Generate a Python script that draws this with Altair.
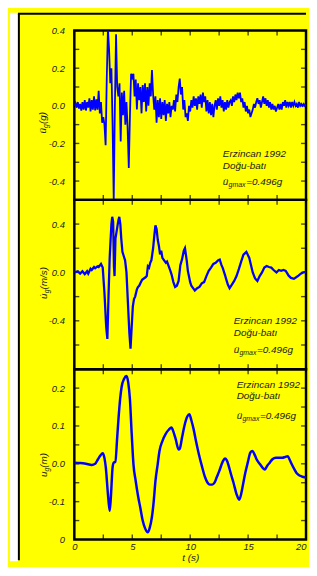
import altair as alt
import pandas as pd

# ---------------- data ----------------
ACC_DT = 0.1
ACC_G = [
    0.00, 0.015, -0.01, 0.02, -0.015, 0.01, -0.025, 0.02, -0.02, 0.03,
    -0.025, 0.02, -0.01, 0.04, -0.03, 0.03, -0.02, 0.05, -0.025, 0.035,
    -0.02, 0.08, -0.04, 0.02, -0.09, -0.06, -0.1, -0.21, 0.15, 0.41,
    0.30, 0.12, 0.20, -0.1, -0.5, 0.0, 0.38, 0.10, 0.05, 0.12,
    -0.19, 0.07, -0.05, 0.08, -0.1, 0.02, -0.12, -0.33, -0.05, 0.17,
    0.15, 0.17, 0.05, 0.14, -0.02, 0.12, 0.03, 0.1, -0.04, 0.11,
    0.02, 0.12, -0.03, 0.1, 0.0, 0.12, 0.05, 0.19, 0.06, -0.02,
    0.05, -0.09, 0.03, -0.06, 0.04, -0.07, 0.02, -0.05, 0.03, -0.08,
    0.01, -0.04, 0.02, -0.06, 0.0, -0.02, 0.03, -0.03, 0.06, 0.02,
    0.1, 0.145, 0.06, 0.1, -0.02, 0.03, -0.06, -0.04, -0.08, 0.0,
    -0.03, 0.03, -0.01, 0.05, 0.0, 0.04, -0.02, 0.05, 0.01, 0.06,
    -0.01, 0.07, 0.02, 0.05, -0.03, 0.03, -0.04, 0.02, -0.05, 0.01,
    -0.06, 0.0, 0.03, -0.02, 0.04, 0.0, 0.05, -0.01, 0.03, -0.03,
    0.02, -0.02, 0.03, -0.01, 0.02, 0.03, 0.0, 0.05, 0.02, 0.06,
    0.03, 0.07, 0.04, 0.07, 0.02, 0.04, -0.01, 0.02, -0.03, 0.0,
    -0.04, -0.02, -0.06, -0.04, -0.02, 0.01, -0.01, 0.02, 0.04, 0.01,
    0.03, -0.01, 0.02, 0.05, 0.01, 0.04, 0.0, 0.03, -0.01, 0.02,
    -0.02, 0.01, -0.02, 0.0, -0.03, -0.01, 0.01, -0.02, 0.01, -0.02,
    0.02, 0.0, 0.03, -0.01, 0.02, 0.0, 0.02, -0.01, 0.02, 0.0,
    0.02, 0.0, 0.01, -0.01, 0.02, 0.0, 0.01, 0.0, 0.01, 0.0,
    0.01,
]
ACC_T = [round(i * ACC_DT, 1) for i in range(len(ACC_G))]

VEL_T = [0, 0.3, 0.5, 0.7, 0.9, 1.1, 1.2, 1.4, 1.5, 1.7, 1.8, 2.0, 2.1, 2.3, 2.45,
         2.6, 2.75, 2.85, 2.95, 3.05, 3.2, 3.27, 3.35, 3.42, 3.47, 3.55, 3.65, 3.8,
         3.88, 3.97, 4.05, 4.15, 4.25, 4.38, 4.5, 4.6, 4.75, 4.85, 4.95, 5.05, 5.15,
         5.25, 5.4, 5.5, 5.6, 5.7, 5.85, 6.0, 6.15, 6.25, 6.35, 6.45, 6.55, 6.65,
         6.8, 6.9, 7.0, 7.1, 7.2, 7.3, 7.4, 7.5, 7.6, 7.75, 7.9, 8.0, 8.15, 8.3,
         8.4, 8.55, 8.7, 8.85, 9.0, 9.15, 9.3, 9.45, 9.55, 9.7, 9.8, 10.0, 10.1,
         10.25, 10.4, 10.6, 10.8, 11.0, 11.2, 11.4, 11.6, 11.8, 12.0, 12.2, 12.4,
         12.55, 12.7, 12.8, 13.0, 13.1, 13.25, 13.4, 13.6, 13.8, 14.0, 14.2, 14.4,
         14.6, 14.85, 15.1, 15.25, 15.4, 15.6, 15.8, 16.0, 16.2, 16.4, 16.6, 16.8,
         17.0, 17.2, 17.45, 17.65, 17.85, 18.05, 18.25, 18.5, 18.7, 18.95, 19.15,
         19.35, 19.55, 19.75, 20.0]
VEL_V = [0.0, 0.01, -0.01, 0.01, -0.015, 0.01, -0.01, 0.03, 0.02, 0.045, 0.035, 0.05, 0.045, 0.07, 0.04,
         -0.17, -0.45, -0.55, -0.2, 0.12, 0.40, 0.46, 0.42, 0.05, -0.03, 0.28, 0.34, 0.43,
         0.46, 0.40, 0.28, 0.17, 0.14, 0.10, 0.0, -0.2, -0.5, -0.63, -0.45, -0.28, -0.22,
         -0.2, -0.14, -0.12, -0.11, -0.09, -0.06, -0.05, -0.04, -0.03, 0.05, 0.04, 0.08,
         0.1, 0.2, 0.3, 0.39, 0.36, 0.27, 0.22, 0.15, 0.18, 0.12, 0.1, 0.08, 0.09, 0.05,
         0.01, -0.02, -0.08, -0.12, -0.11, -0.07, 0.06, 0.11, 0.18, 0.2, 0.1, 0.013,
         -0.08, -0.11, -0.13, -0.15, -0.13, -0.12, -0.09, -0.08, -0.03, 0.013, 0.04, 0.07,
         0.08, 0.1, 0.107, 0.06, 0.04, -0.02, -0.053, -0.1, -0.13, -0.1, -0.07, -0.03,
         0.027, 0.09, 0.147, 0.17, 0.12, 0.06, 0.0, -0.05, -0.07, -0.03, 0.0, 0.04,
         0.053, 0.045, 0.04, 0.02, 0.0, 0.02, 0.013, 0.02, 0.013, -0.027, -0.045, -0.053,
         -0.04, -0.027, -0.01, 0.0, 0.005]

DISP_T = [0, 0.5, 1.0, 1.5, 1.8, 2.04, 2.25, 2.45, 2.6, 2.72, 2.9, 3.05, 3.15, 3.3, 3.4,
          3.54, 3.7, 3.8, 3.95, 4.08, 4.3, 4.5, 4.65, 4.8, 4.95, 5.1, 5.3, 5.5, 5.7,
          5.9, 6.1, 6.34, 6.5, 6.7, 6.85, 7.0, 7.2, 7.35, 7.6, 7.9, 8.15, 8.38, 8.55,
          8.75, 9.0, 9.1, 9.3, 9.5, 9.75, 9.93, 10.1, 10.3, 10.5, 10.75, 11.0, 11.3,
          11.5, 11.7, 11.9, 12.1, 12.3, 12.5, 12.8, 13.0, 13.15, 13.33, 13.5, 13.74,
          14.0, 14.23, 14.4, 14.56, 14.75, 14.97, 15.2, 15.37, 15.55, 15.73, 16.05,
          16.3, 16.46, 16.65, 16.87, 17.1, 17.4, 17.7, 17.96, 18.2, 18.42, 18.6, 18.78,
          19.0, 19.18, 19.4, 19.6, 20.0]
DISP_D = [0.003, 0.002, 0.0, -0.003, 0.0, 0.012, 0.022, 0.028, 0.015, -0.011, -0.08, -0.124,
          -0.09, -0.01, 0.003, 0.005, 0.07, 0.114, 0.17, 0.203, 0.225, 0.232, 0.215, 0.17,
          0.08, 0.0, -0.046, -0.085, -0.117, -0.15, -0.17, -0.181, -0.17, -0.14, -0.1,
          -0.046, 0.0, 0.034, 0.06, 0.08, 0.09, 0.096, 0.085, 0.065, 0.038, 0.04, 0.07,
          0.1, 0.125, 0.131, 0.115, 0.091, 0.06, 0.025, -0.005, -0.037, -0.05, -0.055,
          -0.055, -0.05, -0.035, -0.02, 0.005, 0.014, 0.01, -0.006, -0.025, -0.05, -0.08,
          -0.095, -0.08, -0.055, -0.025, 0.003, 0.03, 0.034, 0.025, 0.012, -0.002, -0.012,
          -0.015, -0.005, 0.003, 0.012, 0.016, 0.016, 0.016, 0.018, 0.02, 0.01, -0.002,
          -0.015, -0.024, -0.03, -0.033, -0.036]

X_TICKS = [0, 2.5, 5, 7.5, 10, 12.5, 15, 17.5, 20]
X_LABELS = [0, 5, 10, 15, 20]

ACC_TICKS = [0.4, 0.3, 0.2, 0.1, 0, -0.1, -0.2, -0.3, -0.4]
ACC_LABEL_VALUES = [0.4, 0.2, 0, -0.2, -0.4]

VEL_TICKS = [0.4, 0.2, 0, -0.2, -0.4, -0.6]
VEL_LABEL_VALUES = [0.4, 0, -0.4]

DISP_TICKS = [0.2, 0.15, 0.1, 0.05, 0, -0.05, -0.1, -0.15]
DISP_LABEL_VALUES = [0.2, 0.1, 0, -0.1, -0.2]

NOTE_LINE1 = "Erzincan 1992"
NOTE_LINE2 = "Doğu-batı"
NOTE_SUB = "gmax"
NOTE_VALUE = "=0.496g"

# ---------------- style ----------------
FONT = "Liberation Sans"
TXT = "#1a1a1a"
BLUE = "#0000ff"
YELLOW = "#ffff00"
W = 234
H1, H2, H3 = 171, 171, 172
TOP = -18
BOTTOM = 536
XSCALE = alt.Scale(domain=[0, 20], nice=False, zero=False)
ONE = pd.DataFrame({"k": [0]})


def txt(s, x, y, size=10, angle=0, style="italic"):
    kw = dict(text=s, align="left", baseline="middle", font=FONT, fontSize=size,
              fontStyle=style, color=TXT)
    if angle:
        kw["angle"] = angle
    return alt.Chart(ONE).mark_text(**kw).encode(x=alt.value(x), y=alt.value(y))


def yaxis(vals, expr=None):
    kw = dict(values=vals, title=None, domain=False, ticks=False, tickSize=0, grid=False,
              labelPadding=10, labelFont=FONT, labelFontSize=9.5,
              labelFontStyle="italic", labelColor=TXT)
    if expr:
        kw["labelExpr"] = expr
    return alt.Axis(**kw)


def minus(expr):
    # plain hyphen minus as in the original
    return f"replace({expr}, '\u2212', '-')"


def tick_layers(yticks, yscale, h, yax, xax):
    tk = dict(color="black", thickness=1.4, size=5)
    ydf = pd.DataFrame({"v": yticks})
    xdf = pd.DataFrame({"t": X_TICKS})
    yenc = alt.Y("v:Q", scale=yscale, axis=yax)
    xenc = alt.X("t:Q", scale=XSCALE, axis=xax)
    return [
        alt.Chart(ydf).mark_tick(orient="horizontal", **tk).encode(y=yenc, x=alt.value(2.5)),
        alt.Chart(ydf).mark_tick(orient="horizontal", **tk).encode(y=yenc, x=alt.value(W - 2.5)),
        alt.Chart(xdf).mark_tick(orient="vertical", **tk).encode(x=xenc, y=alt.value(2.5)),
        alt.Chart(xdf).mark_tick(orient="vertical", **tk).encode(x=xenc, y=alt.value(h - 2.5)),
    ]


def note(x0, y0, dy2, dy3):
    return [
        txt(NOTE_LINE1, x0, y0),
        txt(NOTE_LINE2, x0, y0 + dy2),
        txt("ü", x0, y0 + dy3),
        txt(NOTE_SUB, x0 + 5.8, y0 + dy3 + 3.5, size=7),
        txt(NOTE_VALUE, x0 + 23.5, y0 + dy3),
    ]


# ---------------- panel 1: acceleration ----------------
acc_y = alt.Scale(domain=[-0.5, 0.4], nice=False, zero=False)
acc_ax = yaxis(ACC_LABEL_VALUES, minus("datum.label"))
acc_df = pd.DataFrame({"t": ACC_T, "a": ACC_G})

frame = [
    alt.Chart(ONE).mark_rect(color="white").encode(
        x=alt.value(-65), x2=alt.value(-57), y=alt.value(TOP), y2=alt.value(BOTTOM)),
    alt.Chart(ONE).mark_rule(color="black", strokeWidth=2).encode(
        x=alt.value(-56), y=alt.value(TOP + 1), y2=alt.value(BOTTOM - 1)),
    alt.Chart(ONE).mark_rule(color="black", strokeWidth=2).encode(
        x=alt.value(-57), x2=alt.value(W), y=alt.value(TOP + 1)),
]

acc_line = alt.Chart(acc_df).mark_line(color=BLUE, strokeWidth=1.8, clip=True).encode(
    x=alt.X("t:Q", scale=XSCALE, axis=None),
    y=alt.Y("a:Q", scale=acc_y, axis=acc_ax),
)

p1 = alt.layer(
    *frame, *tick_layers(ACC_TICKS, acc_y, H1, acc_ax, None), acc_line,
    *note(150, 125, 12, 27.5),
    txt("ü", -31.5, 104, angle=270),
    txt("g", -28.5, 98.4, size=7, angle=270),
    txt("(g)", -31.5, 94.4, angle=270),
).properties(width=W, height=H1)

# ---------------- panel 2: velocity ----------------
vel_y = alt.Scale(domain=[-0.8, 0.6], nice=False, zero=False)
vel_ax = yaxis(VEL_LABEL_VALUES, minus("datum.label"))
vel_df = pd.DataFrame({"t": VEL_T, "v": VEL_V})
vel_line = alt.Chart(vel_df).mark_line(color=BLUE, strokeWidth=2.3, clip=True).encode(
    x=alt.X("t:Q", scale=XSCALE, axis=None),
    y=alt.Y("v:Q", scale=vel_y, axis=vel_ax),
)
p2 = alt.layer(
    *tick_layers(VEL_TICKS, vel_y, H2, vel_ax, None), vel_line,
    *note(161, 122, 12.5, 29.5),
    txt("u\u0307", -31, 100, angle=270),
    txt("g", -28, 94.4, size=7, angle=270),
    txt(" (m/s)", -31, 90.5, angle=270),
).properties(width=W, height=H2)

# ---------------- panel 3: displacement ----------------
disp_y = alt.Scale(domain=[-0.2, 0.25], nice=False, zero=False)
disp_ax = yaxis(DISP_LABEL_VALUES,
                "datum.value < -0.15 ? '0' : " + minus("datum.label"))
x_ax = alt.Axis(
    values=X_LABELS, title="t (s)", domain=False, ticks=False, tickSize=0, grid=False,
    labelPadding=2, labelFont=FONT, labelFontSize=9.5, labelFontStyle="italic",
    labelColor=TXT, labelFlush=False,
    labelAlign={"condition": {"test": "datum.value >= 20", "value": "right"},
                "value": "center"},
    titleFont=FONT, titleFontSize=10, titleFontStyle="italic",
    titleFontWeight="normal", titleColor=TXT, titlePadding=2)
disp_df = pd.DataFrame({"t": DISP_T, "d": DISP_D})
disp_line = alt.Chart(disp_df).mark_line(color=BLUE, strokeWidth=2.5, clip=True,
                                         interpolate="monotone").encode(
    x=alt.X("t:Q", scale=XSCALE, axis=x_ax),
    y=alt.Y("d:Q", scale=disp_y, axis=disp_ax),
)
p3 = alt.layer(
    *tick_layers(DISP_TICKS, disp_y, H3, disp_ax, x_ax), disp_line,
    *note(164, 16, 11.5, 31),
    txt("u", -31, 109, angle=270),
    txt("g", -28, 103.4, size=7, angle=270),
    txt("(m)", -31, 99.5, angle=270),
).properties(width=W, height=H3)

chart = alt.vconcat(p1, p2, p3, spacing=0, bounds="flush").properties(
    background=YELLOW, padding=0
).configure_view(stroke="black", strokeWidth=2.5)

chart.save("out.html", embed_options={"renderer": "svg", "actions": False})
